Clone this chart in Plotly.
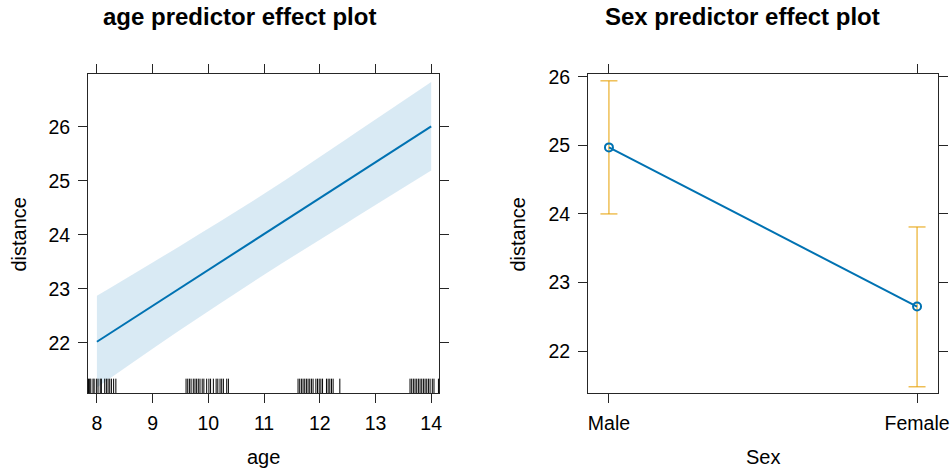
import plotly.graph_objects as go

# ---------------- data ----------------
# age effect (fitted line and confidence band)
age_grid = [8, 9.5, 11, 12.5, 14]
age_fit = [22.02, 23.02, 24.01, 25.01, 26.01]
age_lower = [21.17, 22.24, 23.26, 24.23, 25.19]
age_upper = [22.87, 23.80, 24.76, 25.79, 26.83]

# observed ages (rug, jittered)
age_rug = [7.85, 7.87, 7.89, 7.93, 7.95, 7.99, 8.02, 8.06, 8.08, 8.14, 8.17, 8.20, 8.23, 8.26, 8.30, 8.34,
           9.60, 9.63, 9.66, 9.69, 9.73, 9.76, 9.79, 9.82, 9.85, 9.89, 9.92, 9.97, 10.01, 10.04, 10.09,
           10.14, 10.17, 10.21, 10.24, 10.27, 10.33, 10.36,
           11.61, 11.64, 11.67, 11.70, 11.73, 11.76, 11.79, 11.82, 11.85, 11.88, 11.93, 11.96, 11.99,
           12.02, 12.05, 12.12, 12.15, 12.18, 12.21, 12.24, 12.36,
           13.62, 13.65, 13.68, 13.71, 13.74, 13.77, 13.80, 13.83, 13.86, 13.89, 13.92, 13.95, 13.98,
           14.02, 14.05, 14.13]

# Sex effect
sex_levels = ["Male", "Female"]
sex_fit = [24.97, 22.65]
sex_lower = [24.00, 21.48]
sex_upper = [25.94, 23.81]

age_ticks = [8, 9, 10, 11, 12, 13, 14]
dist_ticks = [22, 23, 24, 25, 26]

# ---------------- style ----------------
BLUE = "#0072B2"
ORANGE = "#E69F00"
AX = "#262626"
FONT = "Liberation Sans, Arial, Helvetica, sans-serif"

left_xrange = [7.84, 14.14]
left_yrange = [21.07, 26.98]
right_xrange = [-0.068, 1.068]
right_yrange = [21.39, 26.04]

fig = go.Figure()

# confidence band
fig.add_trace(go.Scatter(x=age_grid, y=age_lower, mode="lines", line=dict(width=0, shape="spline"),
                         showlegend=False, hoverinfo="skip", xaxis="x", yaxis="y"))
fig.add_trace(go.Scatter(x=age_grid, y=age_upper, mode="lines", line=dict(width=0, shape="spline"),
                         fill="tonexty", fillcolor="rgba(0,114,178,0.15)",
                         showlegend=False, hoverinfo="skip", xaxis="x", yaxis="y"))
# fitted line
fig.add_trace(go.Scatter(x=age_grid, y=age_fit, mode="lines", line=dict(color=BLUE, width=2),
                         showlegend=False, xaxis="x", yaxis="y"))
# rug
rug_y = left_yrange[0] + 0.11
fig.add_trace(go.Scatter(x=age_rug, y=[rug_y] * len(age_rug), mode="markers",
                         marker=dict(symbol="line-ns", size=12, line=dict(color="black", width=1)),
                         showlegend=False, hoverinfo="skip", xaxis="x", yaxis="y"))

# Sex effect with error bars
fig.add_trace(go.Scatter(
    x=sex_levels, y=sex_fit, mode="lines+markers",
    line=dict(color=BLUE, width=2),
    marker=dict(symbol="circle-open", size=8, color=BLUE, line=dict(width=2, color=BLUE)),
    error_y=dict(type="data", symmetric=False,
                 array=[u - f for u, f in zip(sex_upper, sex_fit)],
                 arrayminus=[f - l for f, l in zip(sex_fit, sex_lower)],
                 color=ORANGE, thickness=1, width=8.5),
    showlegend=False, xaxis="x2", yaxis="y2"))

common_axis = dict(showline=True, linecolor=AX, linewidth=1, mirror="ticks",
                   ticks="outside", ticklen=9, tickwidth=1, tickcolor=AX,
                   showgrid=False, zeroline=False, automargin=False,
                   tickfont=dict(family=FONT, size=19.5, color="black"),
                   ticklabelstandoff=4)

fig.update_layout(
    template="none",
    width=951, height=469,
    margin=dict(l=0, r=0, t=0, b=0, pad=0, autoexpand=False),
    paper_bgcolor="white", plot_bgcolor="white",
    font=dict(family=FONT, color="black"),
    xaxis=dict(domain=[88 / 951, 439 / 951], range=left_xrange, tickvals=age_ticks,
               anchor="y", **common_axis),
    yaxis=dict(domain=[76 / 469, 395 / 469], range=left_yrange, tickvals=dist_ticks,
               anchor="x", **common_axis),
    xaxis2=dict(domain=[588 / 951, 938 / 951], range=right_xrange, type="category",
                anchor="y2", **common_axis),
    yaxis2=dict(domain=[76 / 469, 395 / 469], range=right_yrange, tickvals=dist_ticks,
                anchor="x2", **common_axis),
)

ann_font = dict(family=FONT, size=20, color="black")
fig.update_layout(annotations=[
    dict(text="<b>age predictor effect plot</b>", x=239.5 / 951, y=1 - 16.5 / 469,
         xref="paper", yref="paper", showarrow=False, xanchor="center", yanchor="middle",
         font=dict(family=FONT, size=24, color="black")),
    dict(text="<b>Sex predictor effect plot</b>", x=742 / 951, y=1 - 16.5 / 469,
         xref="paper", yref="paper", showarrow=False, xanchor="center", yanchor="middle",
         font=dict(family=FONT, size=24, color="black")),
    dict(text="age", x=263.5 / 951, y=1 - 457 / 469, xref="paper", yref="paper",
         showarrow=False, xanchor="center", yanchor="middle", font=ann_font),
    dict(text="Sex", x=763 / 951, y=1 - 457 / 469, xref="paper", yref="paper",
         showarrow=False, xanchor="center", yanchor="middle", font=ann_font),
    dict(text="distance", x=18.5 / 951, y=1 - 234 / 469, xref="paper", yref="paper",
         showarrow=False, xanchor="center", yanchor="middle", textangle=-90, font=ann_font),
    dict(text="distance", x=517.5 / 951, y=1 - 234 / 469, xref="paper", yref="paper",
         showarrow=False, xanchor="center", yanchor="middle", textangle=-90, font=ann_font),
])

css_fix = (
    "var s=document.createElement('style');"
    "s.textContent='html,body{margin:0!important;padding:0!important;overflow:hidden!important;"
    "width:951px;height:469px;} .plotly-graph-div{position:fixed!important;left:0;top:0;}';"
    "document.head.appendChild(s);"
)

fig.write_html("out.html",
               config={"displayModeBar": False, "responsive": False},
               post_script=css_fix)
